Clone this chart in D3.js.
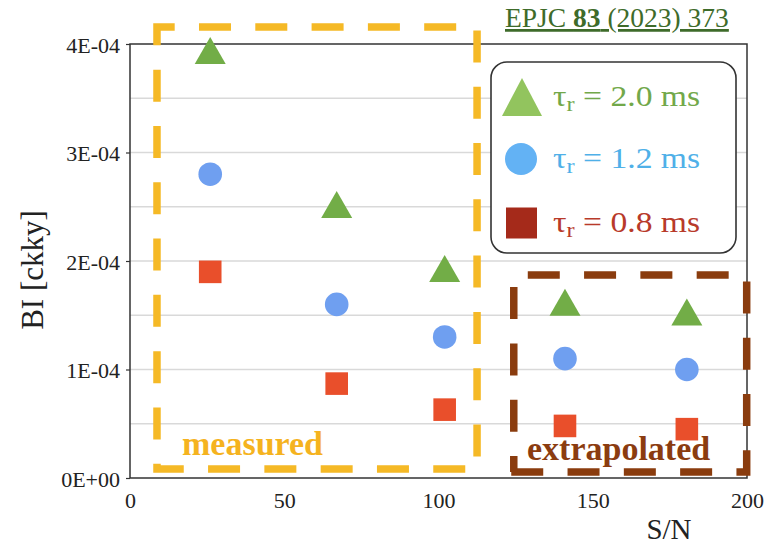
<!DOCTYPE html>
<html>
<head>
<meta charset="utf-8">
<script src="https://cdn.jsdelivr.net/npm/d3@7"></script>
<style>
  html, body { margin: 0; padding: 0; background: #fff; }
  svg { display: block; }
</style>
</head>
<body>
<svg id="chart" width="764" height="546"></svg>
<script>
// S/N values shared by all three series
const snr = [26, 67, 102, 141, 180.5];
// Background index (counts/keV/kg/yr) for each rise-time cut
const bi20 = [3.94e-4, 2.52e-4, 1.93e-4, 1.62e-4, 1.53e-4];
const bi12 = [2.80e-4, 1.60e-4, 1.30e-4, 1.10e-4, 1.00e-4];
const bi08 = [1.90e-4, 0.87e-4, 0.63e-4, 0.48e-4, 0.45e-4];

const seriesNames = ["2.0", "1.2", "0.8"];
const xTicks = [0, 50, 100, 150, 200];
const yTicks = [0, 1e-4, 2e-4, 3e-4, 4e-4];
const yTickLabels = ["0E+00", "1E-04", "2E-04", "3E-04", "4E-04"];
const yGrid = [0.5e-4, 1e-4, 1.5e-4, 2e-4, 2.5e-4, 3e-4, 3.5e-4];

// Region annotations in data units: [x0, x1, y0, y1]
const measuredBox = [8.75, 112.5, 0.083e-4, 4.157e-4];
const extrapBox = [124.4, 199.9, 0.055e-4, 1.87e-4];

const svg = d3.select("#chart");
const m = { left: 130, right: 747, top: 44, bottom: 478 };

const x = d3.scaleLinear().domain([0, 200]).range([m.left, m.right]);
const y = d3.scaleLinear().domain([0, 4e-4]).range([m.bottom, m.top]);

const serif = "'Liberation Serif', 'Times New Roman', serif";

// upward triangle centred on its bounding box
function triPath(cx, cy, w, h) {
  const p = d3.path();
  p.moveTo(cx, cy - h / 2);
  p.lineTo(cx + w / 2, cy + h / 2);
  p.lineTo(cx - w / 2, cy + h / 2);
  p.closePath();
  return p.toString();
}

// grid
svg.append("g").selectAll("line").data(yGrid).join("line")
  .attr("x1", m.left).attr("x2", m.right)
  .attr("y1", d => y(d)).attr("y2", d => y(d))
  .attr("stroke", "#d9d9d9").attr("stroke-width", 1.5);

// frame
svg.append("rect")
  .attr("x", m.left).attr("y", m.top)
  .attr("width", m.right - m.left).attr("height", m.bottom - m.top)
  .attr("fill", "none").attr("stroke", "#333").attr("stroke-width", 1.5);

// y axis
const yAxis = d3.axisLeft(y).tickValues(yTicks)
  .tickFormat((d, i) => yTickLabels[i]).tickSize(4).tickPadding(6);
const gy = svg.append("g").attr("transform", `translate(${m.left},0)`).call(yAxis);
gy.select(".domain").remove();
gy.selectAll(".tick line").attr("stroke", "#333").attr("stroke-width", 1.2);
gy.selectAll(".tick text").attr("font-family", serif).attr("font-size", 22)
  .attr("fill", "#222").attr("dy", "0.38em");

// x axis
const xAxis = d3.axisBottom(x).tickValues(xTicks).tickSize(0).tickPadding(14);
const gx = svg.append("g").attr("transform", `translate(0,${m.bottom})`).call(xAxis);
gx.select(".domain").remove();
gx.selectAll(".tick text").attr("font-family", serif).attr("font-size", 22)
  .attr("fill", "#222");

// axis titles
svg.append("text").attr("x", 669).attr("y", 539).attr("text-anchor", "middle")
  .attr("font-family", serif).attr("font-size", 29).attr("fill", "#222").text("S/N");
svg.append("text").attr("transform", "translate(43,270) rotate(-90)")
  .attr("text-anchor", "middle").attr("font-family", serif).attr("font-size", 31)
  .attr("fill", "#222").text("BI [ckky]");

// citation
const cite = svg.append("text").attr("x", 505).attr("y", 27)
  .attr("font-family", serif).attr("font-size", 27.5).attr("fill", "#3e6b2a")
  .attr("text-decoration", "underline");
cite.append("tspan").text("EPJC ");
cite.append("tspan").attr("font-weight", "bold").text("83");
cite.append("tspan").text(" (2023) 373");

// dashed region boxes
function dashedPath(pts, color, offset, closed) {
  const p = d3.path();
  p.moveTo(pts[0][0], pts[0][1]);
  pts.slice(1).forEach(q => p.lineTo(q[0], q[1]));
  if (closed) p.closePath();
  svg.append("path").attr("d", p.toString())
    .attr("fill", "none").attr("stroke", color).attr("stroke-width", 7.5)
    .attr("stroke-dasharray", "32 24.3").attr("stroke-dashoffset", offset);
}
{
  const [x0, x1, y0, y1] = measuredBox;
  dashedPath([[x(x0), y(y1)], [x(x1), y(y1)], [x(x1), y(y0)], [x(x0), y(y0)]],
    "#f5b926", 14.3, true);
}
{
  const [x0, x1, y0, y1] = extrapBox;
  dashedPath([[x(x0), y(y1)], [x(x1), y(y1)], [x(x1), y(y0)], [x(x0) - 3.75, y(y0)]],
    "#8a3c0e", -14, false);
  dashedPath([[x(x0), y(y1)], [x(x0), y(y0)]], "#8a3c0e", -12, false);
}

svg.append("text").attr("x", 182).attr("y", 455)
  .attr("font-family", serif).attr("font-weight", "bold").attr("font-size", 34)
  .attr("fill", "#f5b31f").text("measured");
svg.append("text").attr("x", 527).attr("y", 460)
  .attr("font-family", serif).attr("font-weight", "bold").attr("font-size", 34)
  .attr("fill", "#8b3c10").text("extrapolated");

// markers
const pts = snr.map((s, i) => ({ s, a: bi20[i], b: bi12[i], c: bi08[i] }));

svg.append("g").selectAll("path").data(pts).join("path")
  .attr("d", d => triPath(x(d.s), y(d.a), 31, 27))
  .attr("fill", "#72ad47");
svg.append("g").selectAll("circle").data(pts).join("circle")
  .attr("cx", d => x(d.s)).attr("cy", d => y(d.b)).attr("r", 11.8)
  .attr("fill", "#6f9ff0");
svg.append("g").selectAll("rect").data(pts).join("rect")
  .attr("x", d => x(d.s) - 11.3).attr("y", d => y(d.c) - 11.3)
  .attr("width", 22.6).attr("height", 22.6)
  .attr("fill", "#e94f2b");

// legend
svg.append("rect").attr("x", 491).attr("y", 62).attr("width", 245).attr("height", 191)
  .attr("rx", 16).attr("fill", "#fff").attr("stroke", "#333").attr("stroke-width", 1.6);

const legendRows = [
  { name: seriesNames[0], cy: 97, sym: "tri", fill: "#92c45e", text: "#72a84a" },
  { name: seriesNames[1], cy: 159, sym: "circle", fill: "#63b2f4", text: "#4fb0e8" },
  { name: seriesNames[2], cy: 223, sym: "square", fill: "#a52a1a", text: "#b83a2a" }
];
const lg = svg.append("g");
legendRows.forEach(r => {
  if (r.sym === "tri") {
    lg.append("path").attr("d", triPath(522, r.cy, 40, 38)).attr("fill", r.fill);
  } else if (r.sym === "circle") {
    lg.append("circle").attr("cx", 521).attr("cy", r.cy).attr("r", 16).attr("fill", r.fill);
  } else {
    lg.append("rect").attr("x", 506).attr("y", r.cy - 15.5).attr("width", 31).attr("height", 31)
      .attr("fill", r.fill);
  }
  const t = lg.append("text")
    .attr("transform", `translate(553,${r.cy + 9}) scale(1.16,1)`)
    .attr("font-family", serif).attr("font-size", 29).attr("fill", r.text);
  t.append("tspan").text("τ");
  t.append("tspan").attr("font-size", 21).attr("dy", 5).text("r");
  t.append("tspan").attr("dy", -5).text(` = ${r.name} ms`);
});
</script>
</body>
</html>
